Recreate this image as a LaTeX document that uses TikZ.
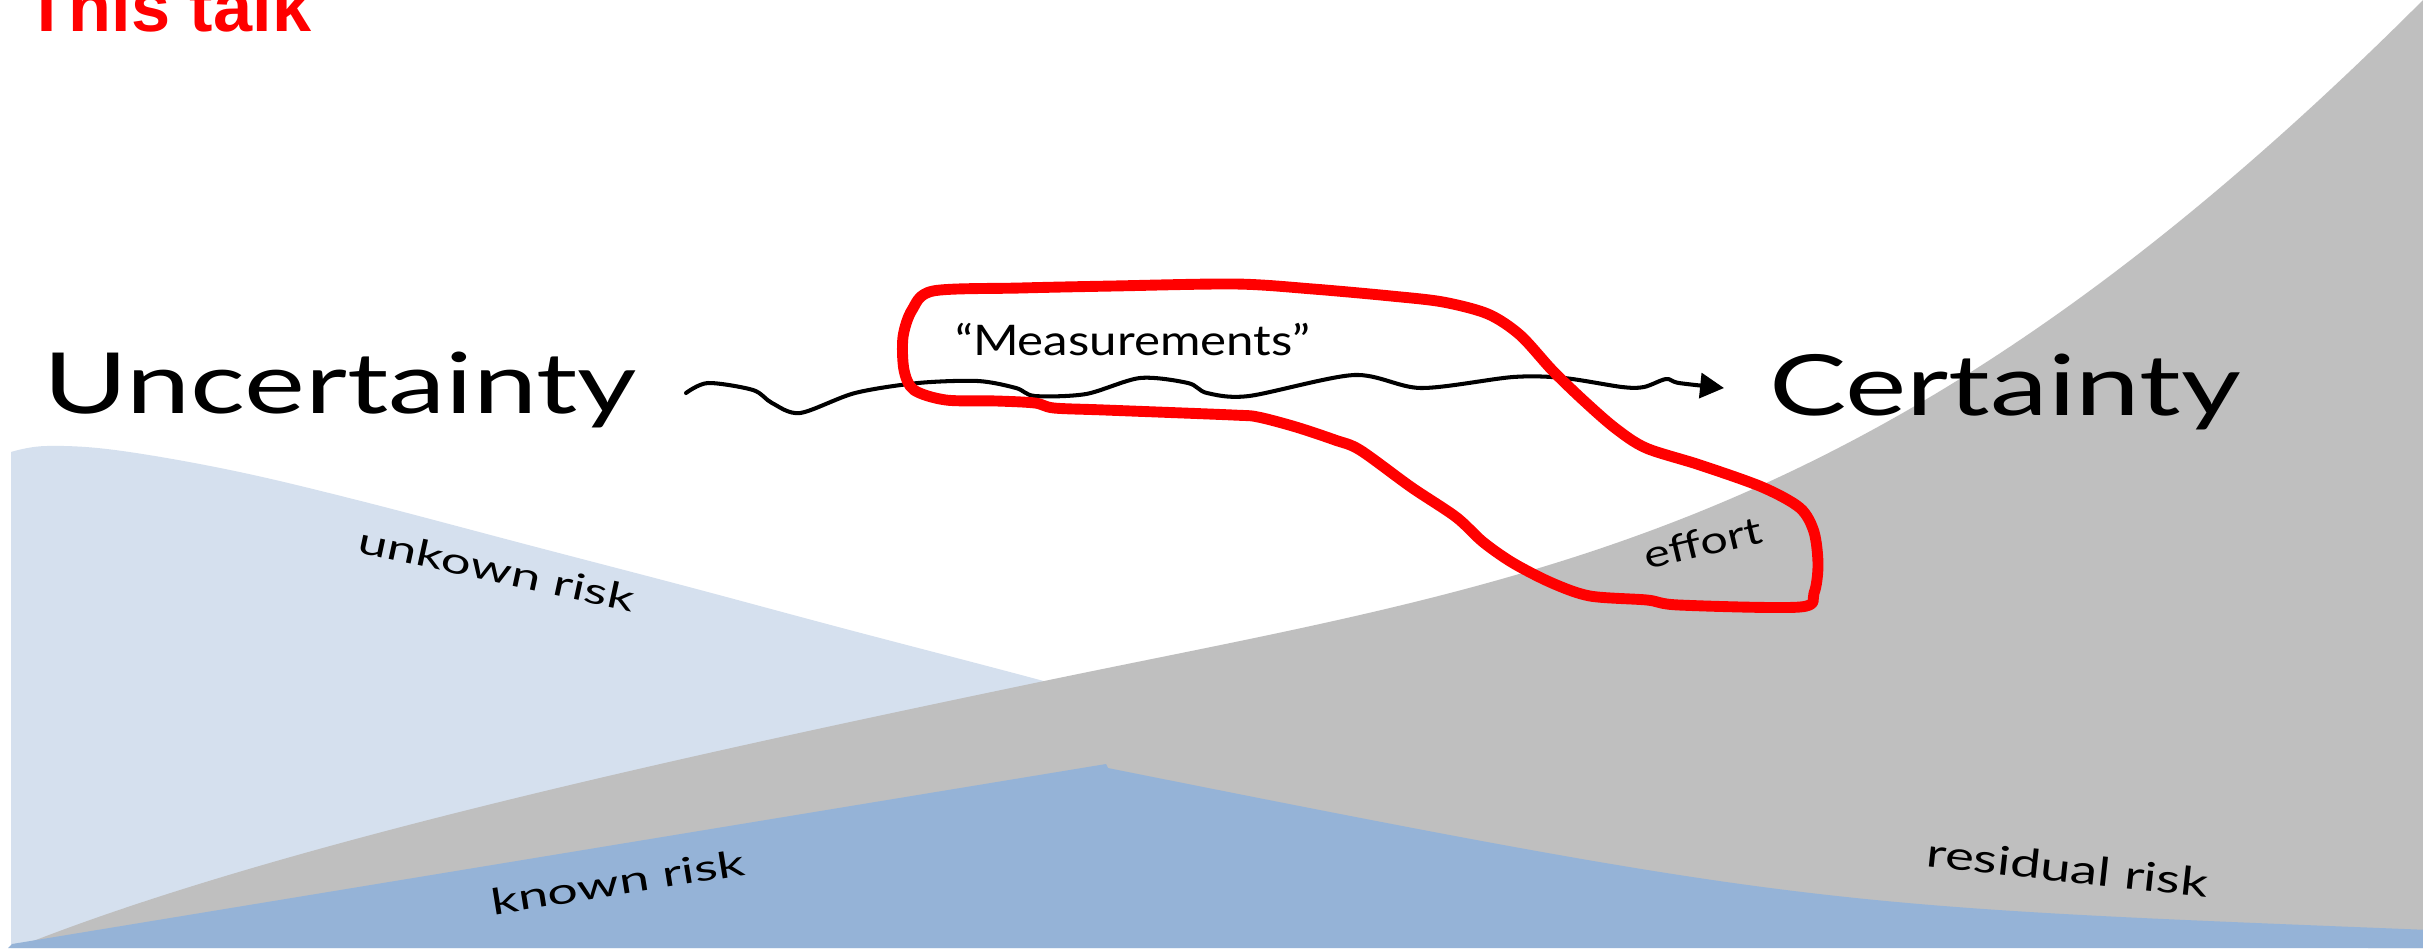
\documentclass[tikz,border=0pt]{standalone}
\usepackage{graphicx}
\usepackage{fontspec}
\setmainfont{Lato}
\newfontfamily\talkfont{Liberation Sans}
\usetikzlibrary{arrows.meta}
\definecolor{unknownblue}{HTML}{D5E0EE}
\definecolor{knownblue}{HTML}{95B3D7}
\definecolor{effortgray}{HTML}{BFBFBF}
\definecolor{talkred}{HTML}{FF0000}
\newsavebox\fitbox
\newcommand\fitw[2]{\sbox\fitbox{#2}\pgfmathsetmacro\fitfac{#1/\the\wd\fitbox}\scalebox{\fitfac}[1]{\usebox\fitbox}}
\tikzset{
  hand/.style={inner sep=0pt, outer sep=0pt, text=black},
  bigword/.style={hand, font=\fontsize{24}{28}\selectfont},
  midword/.style={hand, font=\fontsize{12}{14}\selectfont},
  smallword/.style={hand, font=\fontsize{10.3}{12}\selectfont},
  resword/.style={hand, font=\fontsize{11.3}{13}\selectfont},
  effword/.style={hand, font=\fontsize{10.8}{13}\selectfont},
  talktitle/.style={inner sep=0pt, outer sep=0pt, text=talkred, font=\talkfont\bfseries\fontsize{20}{24}\selectfont},
  wavyarrow/.style={draw=black, line width=1.15pt, line cap=round, line join=round, -{Triangle[length=6.8pt,width=7.1pt]}},
  talkloop/.style={draw=talkred, line width=3.1pt, line join=round}
}
\begin{document}
\begin{tikzpicture}[x=0.1mm, y=-0.1mm]
\useasboundingbox (0,0) rectangle (2423,948);
\fill[white] (0,0) rectangle (2423,948);
\clip (0,0) rectangle (2423,948);

% unknown risk (light blue)
\fill[unknownblue] (11,948) -- plot[smooth, tension=0.6] coordinates {(11,452) (46,446) (115,450) (230,470) (357,500) (536,547) (689,587) (842,628) (1025,676) (1180,718)} -- (1180,948) -- cycle;

% effort (gray)
\fill[effortgray] (18,947) .. controls (268,847) and (675,758) .. (1025,685)
  .. controls (1525,580) and (1873,550) .. (2423,0) -- (2430,-5) -- (2430,948) -- cycle;

% known / residual risk (dark blue)
\fill[knownblue] (8,948) -- (12,944) -- (1106,764) -- (1108,768)
  .. controls (1808,908) and (1830,906) .. (2430,930) -- (2430,948) -- cycle;

% text nodes
\node[talktitle, anchor=base west] (talk) at (26,31) {This talk};
\node[bigword, anchor=base west] (uncertainty) at (43,413) {\fitw{169}{Uncertainty}};
\node[bigword, anchor=base west] (certainty) at (1769,415) {\fitw{134.3}{Certainty}};
\node[midword, anchor=base west] (measure) at (955,355) {\fitw{101}{“Measurements”}};
\node[smallword, anchor=base, rotate=-12.2] (unknown) at (494,582) {\fitw{80}{unkown risk}};
\node[smallword, anchor=base, rotate=9.1] (known) at (620,895) {\fitw{73}{known risk}};
\node[resword, anchor=base, rotate=-6.2] (residual) at (2066,882) {\fitw{80.5}{residual risk}};
\node[effword, anchor=base, rotate=13.4] (effort) at (1706,556) {\fitw{34}{effort}};

% wavy arrow
\coordinate (wstart) at (686,393);
\coordinate (wend) at (1724,388);
\draw[wavyarrow] plot[smooth, tension=0.5] coordinates {(wstart) (708,383) (753,390) (772,403) (800,413) (855,393) (918,383) (978,381) (1016,388) (1035,396) (1086,394) (1140,378) (1188,383) (1207,393) (1249,396) (1354,375) (1421,388) (1513,377) (1564,378) (1622,387) (1644,387) (1666,379) (1679,383) (wend)};

% red loop
\draw[talkloop] plot[smooth cycle, tension=0.5] coordinates {(933,291) (1020,288) (1113,286) (1236,284) (1313,289) (1391,296) (1443,302) (1488,314) (1520,335) (1552,370) (1583,400) (1615,428) (1646,448) (1700,465) (1762,487) (1800,508) (1814,532) (1818,565) (1814,593) (1800,607) (1679,605) (1647,600) (1590,596) (1552,583) (1513,563) (1483,542) (1456,517) (1411,487) (1360,450) (1335,440) (1296,427) (1258,417) (1233,415) (1105,410) (1054,408) (1035,403) (997,401) (946,400) (914,390) (904,370) (903,337) (912,310)};
\end{tikzpicture}
\end{document}
